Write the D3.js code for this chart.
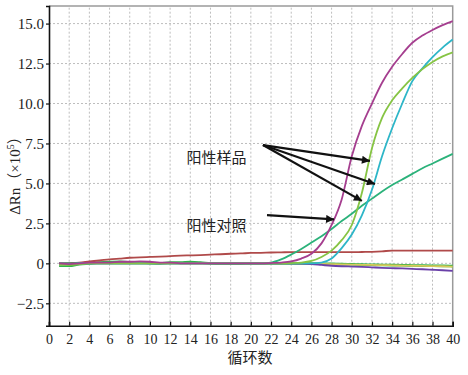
<!DOCTYPE html>
<html>
<head>
<meta charset="utf-8">
<script src="https://cdn.jsdelivr.net/npm/d3@7/dist/d3.min.js"></script>
<style>
  body { margin: 0; background: #fff; }
  svg { display: block; }
  text { fill: #222; }
</style>
</head>
<body>
<div id="chart"></div>
<script>
/*** DATA ***/

const cycles = [1,2,3,4,5,6,7,8,9,10,11,12,13,14,15,16,17,18,19,20,
                21,22,23,24,25,26,27,28,29,30,31,32,33,34,35,36,37,38,39,40];

// positive samples
const sampleA = [0,-0.05,0,0.05,0.05,0.05,0.1,0.1,0.12,0.1,0.05,0.05,0,0,0,0,0,0,0,0,
                 0,0.02,0.05,0.12,0.3,0.6,1.25,2.4,4.0,6.7,8.6,10.0,11.3,12.3,13.1,13.8,14.25,14.6,14.9,15.15];
const sampleB = [-0.1,-0.1,-0.05,0,0,0,0,0,0,0,0,0,0,0,0,0,0,0,0,0,
                 0,0,0,0.02,0.05,0.15,0.4,0.8,1.45,2.4,4.4,7.2,9.1,10.2,10.95,11.6,12.15,12.6,12.95,13.2];
const sampleC = [-0.1,-0.05,0,0,0,0,0,0,0,0,0,0,0,0,0,0,0,0,0,0,
                 0,0,0,0,0,0,0.05,0.3,0.95,1.8,3.0,4.6,6.7,8.45,10.0,11.4,12.2,12.9,13.5,14.0];
// positive control
const control = [0,0,0,0,0,0,0,0,0,0,0,0,0,0,0,0,0,0,0,0,
                 0,0.05,0.25,0.55,0.9,1.3,1.7,2.15,2.65,3.1,3.6,4.05,4.5,4.9,5.25,5.6,5.95,6.25,6.55,6.85];
// negatives / baselines
const redBase = [0,0.02,0.05,0.12,0.18,0.25,0.3,0.35,0.38,0.4,0.42,0.45,0.48,0.5,0.52,0.55,0.57,0.6,0.62,0.65,
                 0.66,0.68,0.69,0.7,0.7,0.7,0.7,0.7,0.7,0.7,0.71,0.72,0.75,0.8,0.8,0.8,0.8,0.8,0.8,0.8];
const yellowBase = [-0.1,-0.05,0,0,0,0,0,0,0,0,0,0,0,0,0,0,0,0,0,0,
                    0,0,0,0,0,0,-0.03,-0.05,-0.06,-0.08,-0.09,-0.1,-0.11,-0.12,-0.14,-0.15,-0.16,-0.17,-0.18,-0.2];
const purpleBase = [0,0,0,0,0,0,0,0,0,0,0,0,0,0,0,0,0,0,0,0,
                    0,0,0,0,-0.02,-0.05,-0.1,-0.15,-0.18,-0.2,-0.22,-0.25,-0.28,-0.3,-0.32,-0.35,-0.37,-0.4,-0.43,-0.47];
const greenBase = [-0.15,-0.15,-0.05,0,0.05,0.08,0.1,0.05,0.05,0.02,0,0.05,0.05,0.08,0.05,0,-0.02,-0.02,-0.02,0,
                   0,0,0,0,0,0,-0.02,-0.03,-0.05,-0.06,-0.08,-0.09,-0.1,-0.11,-0.12,-0.13,-0.14,-0.15,-0.16,-0.17];

const xTicks = [0,2,4,6,8,10,12,14,16,18,20,22,24,26,28,30,32,34,36,38,40];
const yTicks = [-2.5,0,2.5,5,7.5,10,12.5,15];
const yTickLabels = ["\u22122.5","0","2.5","5.0","7.5","10.0","12.5","15.0"];

// annotations (data coordinates)
const sampleLabel = {text: "阳性样品", c: 16.6, v: 6.6};
const controlLabel = {text: "阳性对照", c: 16.6, v: 2.33};
const sampleArrowFrom = [21.2, 7.4];
const sampleArrowTips = [[31.8, 6.41], [32.3, 4.96], [31.0, 3.91]];
const controlArrowFrom = [21.6, 3.02];
const controlArrowTip = [28.25, 2.75];

const serifFont = "'Liberation Serif', 'Times New Roman', Tinos, 'DejaVu Serif', serif";
const cjkFont = "'Noto Sans CJK SC', 'Noto Sans CJK JP', sans-serif";

/*** SETUP ***/

const W = 468, H = 375;
const svg = d3.select("#chart").append("svg").attr("width", W).attr("height", H);

const x = d3.scaleLinear().domain([0, 40]).range([49, 452.7]);
const y = d3.scaleLinear().domain([-3.9, 16.1]).range([325.7, 6]);

// grid
svg.append("g").selectAll("line")
  .data(xTicks.filter(d => d > 0 && d < 40))
  .enter().append("line")
    .attr("x1", d => x(d)).attr("x2", d => x(d))
    .attr("y1", y.range()[0]).attr("y2", y.range()[1])
    .attr("stroke", "#bdbdbd").attr("stroke-width", 1).attr("stroke-dasharray", "2,2");
svg.append("g").selectAll("line")
  .data(yTicks)
  .enter().append("line")
    .attr("x1", x.range()[0]).attr("x2", x.range()[1])
    .attr("y1", d => y(d)).attr("y2", d => y(d))
    .attr("stroke", "#bdbdbd").attr("stroke-width", 1).attr("stroke-dasharray", "2,2");

// frame top/right
svg.append("path")
  .attr("d", `M${x.range()[0]},${y.range()[1]}H${x.range()[1]}V${y.range()[0]}`)
  .attr("fill", "none").attr("stroke", "#9a9a9a").attr("stroke-width", 1.5);

/*** SERIES ***/

const series = [
  {vals: greenBase, col: "#2fb34a", w: 2.6},
  {vals: yellowBase, col: "#d9c95c", w: 1.8},
  {vals: purpleBase, col: "#6a40a8", w: 1.8},
  {vals: redBase, col: "#b04a4a", w: 1.8},
  {vals: control, col: "#2bb27a", w: 1.8},
  {vals: sampleC, col: "#2db6c8", w: 1.8},
  {vals: sampleB, col: "#86c444", w: 1.8},
  {vals: sampleA, col: "#a53e8f", w: 1.8}
];

const line = d3.line()
  .x((d, i) => x(cycles[i]))
  .y(d => y(d))
  .curve(d3.curveMonotoneX);

svg.append("g").selectAll("path")
  .data(series)
  .enter().append("path")
    .attr("d", d => line(d.vals))
    .attr("fill", "none")
    .attr("stroke", d => d.col)
    .attr("stroke-width", d => d.w)
    .attr("stroke-linejoin", "round");

/*** AXES ***/

const xAxis = d3.axisBottom(x).tickValues(xTicks).tickSize(-4).tickPadding(8).tickFormat(d3.format("d"));
const gx = svg.append("g").attr("transform", `translate(0,${y.range()[0]})`).call(xAxis);
gx.style("font-family", serifFont);
gx.select(".domain").attr("stroke", "#111").attr("stroke-width", 1.6);
gx.selectAll(".tick line").attr("stroke", "#111").attr("stroke-width", 1.2);
gx.selectAll(".tick text")
  .style("font-family", serifFont).style("font-size", "14px").attr("fill", "#222");

const yAxis = d3.axisLeft(y).tickValues(yTicks).tickSize(3).tickPadding(2)
  .tickFormat((d, i) => yTickLabels[i]);
const gy = svg.append("g").attr("transform", `translate(${x.range()[0]},0)`).call(yAxis);
gy.style("font-family", serifFont);
gy.select(".domain").attr("stroke", "#111").attr("stroke-width", 1.6);
gy.selectAll(".tick line").attr("stroke", "#111").attr("stroke-width", 1.2);
gy.selectAll(".tick text")
  .style("font-family", serifFont).style("font-size", "15px").attr("fill", "#222");

// axis titles
svg.append("text")
  .style("font-family", cjkFont)
  .attr("x", 250).attr("y", 363)
  .attr("text-anchor", "middle")
  .attr("font-size", 15)
  .text("循环数");

const yl = svg.append("text")
  .style("font-family", serifFont)
  .attr("transform", "translate(20,172) rotate(-90)")
  .attr("text-anchor", "middle")
  .attr("font-size", 15);
yl.append("tspan").text("ΔRn");
yl.append("tspan").style("font-family", cjkFont).text("（");
yl.append("tspan").text("×10");
yl.append("tspan").attr("font-size", 10).attr("dy", -6).text("5");
yl.append("tspan").style("font-family", cjkFont).attr("dy", 6).text("）");

/*** ANNOTATIONS ***/

svg.append("defs").append("marker")
  .attr("id", "arr")
  .attr("viewBox", "0 0 10 10")
  .attr("refX", 10).attr("refY", 5)
  .attr("markerUnits", "userSpaceOnUse")
  .attr("markerWidth", 11).attr("markerHeight", 8)
  .attr("orient", "auto")
  .append("path").attr("d", "M0,0L10,5L0,10z").attr("fill", "#111");

const arrows = sampleArrowTips.map(t => [sampleArrowFrom, t]).concat([[controlArrowFrom, controlArrowTip]]);
svg.append("g").selectAll("line")
  .data(arrows)
  .enter().append("line")
    .attr("x1", d => x(d[0][0])).attr("y1", d => y(d[0][1]))
    .attr("x2", d => x(d[1][0])).attr("y2", d => y(d[1][1]))
    .attr("stroke", "#111").attr("stroke-width", 2.2)
    .attr("marker-end", "url(#arr)");

[sampleLabel, controlLabel].forEach(l => {
  svg.append("text")
    .style("font-family", cjkFont)
    .attr("x", x(l.c)).attr("y", y(l.v))
    .attr("dy", "0.35em")
    .attr("text-anchor", "middle")
    .attr("font-size", 15)
    .text(l.text);
});
</script>
</body>
</html>
